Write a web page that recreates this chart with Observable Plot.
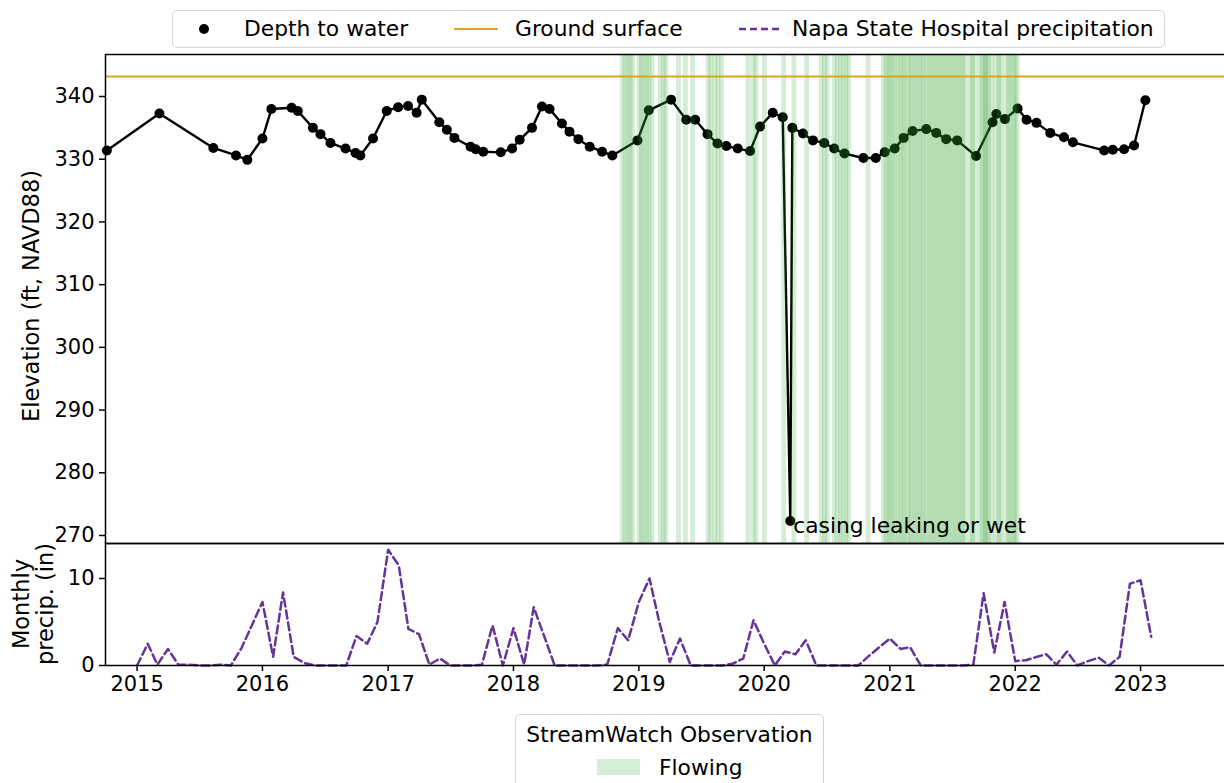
<!DOCTYPE html>
<html><head><meta charset="utf-8">
<script src="https://cdn.jsdelivr.net/npm/d3@7"></script>
<script src="https://cdn.jsdelivr.net/npm/@observablehq/plot@0.6"></script>
<style>
body{margin:0;background:#fff;font-family:"DejaVu Sans",sans-serif;}
#wrap{position:relative;width:1224px;height:783px;overflow:hidden;background:#fff;}
#top,#bot{position:absolute;left:0;}
#top{top:0;}
#bot{top:542px;}
#top svg,#bot svg{max-width:none !important;}
.legend{position:absolute;background:#fff;border:1.5px solid #d3d3d3;border-radius:5px;font-size:21.8px;color:#000;box-sizing:border-box;}
.lt{position:absolute;white-space:nowrap;transform:translateY(-50%);line-height:1;}
.ylab{position:absolute;white-space:nowrap;font-size:22.5px;line-height:1.05;text-align:center;transform:translate(-50%,-50%) rotate(-90deg);}
</style></head><body>
<div id="wrap">
  <div id="top"></div>
  <div id="bot"></div>
  <div class="ylab" style="left:32px;top:296px;">Elevation (ft, NAVD88)</div>
  <div class="ylab" style="left:34px;top:604px;">Monthly<br>precip. (in)</div>
  <div class="legend" style="left:172px;top:10px;width:993px;height:38px;">
    <svg style="position:absolute;left:0;top:0" width="990" height="36">
      <circle cx="31" cy="18" r="5" fill="black"/>
      <line x1="281" x2="325" y1="18" y2="18" stroke="#daa520" stroke-width="2"/>
      <line x1="566" x2="608" y1="18" y2="18" stroke="#663399" stroke-width="2.5" stroke-dasharray="7,4"/>
    </svg>
    <div class="lt" style="left:71px;top:18px;">Depth to water</div>
    <div class="lt" style="left:342px;top:18px;">Ground surface</div>
    <div class="lt" style="left:619px;top:18px;">Napa State Hospital precipitation</div>
  </div>
  <div class="legend" style="left:515px;top:714px;width:309px;height:90px;">
    <div class="lt" style="left:0;width:100%;text-align:center;top:20px;">StreamWatch Observation</div>
    <div style="position:absolute;left:81px;top:44px;width:43px;height:16px;background:rgba(44,160,44,0.2);"></div>
    <div class="lt" style="left:143px;top:53px;">Flowing</div>
  </div>
</div>
<script>
// Depth to water (elevation, ft NAVD88)
const wlDates = ["2014-10-05","2015-03-07","2015-08-11","2015-10-16","2015-11-18","2016-01-01","2016-01-27","2016-03-26","2016-04-13","2016-05-27","2016-06-18","2016-07-17","2016-08-30","2016-09-28","2016-10-12","2016-11-18","2016-12-28","2017-01-30","2017-02-28","2017-03-25","2017-04-09","2017-05-30","2017-06-21","2017-07-13","2017-08-29","2017-09-13","2017-10-05","2017-11-25","2017-12-28","2018-01-19","2018-02-24","2018-03-25","2018-04-16","2018-05-22","2018-06-13","2018-07-09","2018-08-11","2018-09-16","2018-10-16","2018-12-28","2019-01-30","2019-04-05","2019-05-19","2019-06-14","2019-07-20","2019-08-18","2019-09-13","2019-10-16","2019-11-21","2019-12-20","2020-01-26","2020-02-24","2020-03-17","2020-03-23","2020-04-23","2020-05-22","2020-06-24","2020-07-23","2020-08-22","2020-10-16","2020-11-21","2020-12-17","2021-01-15","2021-02-10","2021-03-08","2021-04-17","2021-05-16","2021-06-14","2021-07-16","2021-09-09","2021-10-27","2021-11-07","2021-12-02","2022-01-08","2022-02-03","2022-03-04","2022-04-13","2022-05-23","2022-06-18","2022-09-17","2022-10-12","2022-11-14","2022-12-13","2023-01-15"];
const wlValues = [331.4,337.3,331.8,330.6,329.9,333.3,338.0,338.2,337.7,335.0,334.0,332.6,331.7,331.0,330.6,333.3,337.7,338.3,338.5,337.4,339.5,335.9,334.7,333.4,332.0,331.6,331.2,331.1,331.7,333.1,335.0,338.4,338.0,335.7,334.4,333.2,332.0,331.2,330.6,333.0,337.8,339.5,336.3,336.3,334.0,332.5,332.1,331.7,331.3,335.2,337.4,336.7,272.3,335.0,334.1,333.0,332.6,331.7,330.9,330.2,330.2,331.1,331.7,333.4,334.5,334.8,334.2,333.2,333.0,330.5,335.9,337.2,336.4,338.1,336.3,335.8,334.2,333.5,332.7,331.4,331.5,331.6,332.2,339.4];
const groundSurface = 343.2;
const annotation = {date: "2020-03-17", value: 272.3, label: "casing leaking or wet"};

// Monthly precipitation (in), Napa State Hospital, starting Jan 2015
const precipStart = "2015-01-01";
const precipValues = [
  0.0,2.5,0.1,1.9,0.1,0.1,0.0,0.0,0.1,0.0,2.0,4.6,
  7.3,1.0,8.4,1.0,0.3,0.0,0.0,0.0,0.0,3.4,2.5,5.0,
  13.3,11.5,4.2,3.6,0.1,0.8,0.0,0.0,0.0,0.1,4.6,0.0,
  4.3,0.1,6.7,3.3,0.0,0.0,0.0,0.0,0.0,0.1,4.3,2.9,
  7.3,10.0,5.1,0.4,3.1,0.0,0.0,0.0,0.0,0.2,0.8,5.2,
  2.5,0.0,1.6,1.3,2.9,0.0,0.0,0.0,0.0,0.0,1.1,2.1,
  3.1,1.9,2.1,0.0,0.0,0.0,0.0,0.0,0.1,8.3,1.5,7.3,
  0.5,0.6,0.95,1.3,0.1,1.6,0.0,0.5,0.9,0.0,1.0,9.4,
  9.8,3.3];

// StreamWatch "Flowing" observation dates
const flowingDates = ["2018-11-15","2018-11-23","2018-12-01","2018-12-08","2018-12-15","2019-01-03","2019-01-10","2019-01-17","2019-01-25","2019-02-01","2019-02-10","2019-03-05","2019-03-15","2019-03-22","2019-04-28","2019-05-18","2019-06-08","2019-07-23","2019-07-31","2019-08-12","2019-08-21","2019-08-31","2019-11-16","2019-12-01","2019-12-10","2020-01-03","2020-02-28","2020-03-29","2020-05-05","2020-06-16","2020-06-26","2020-07-04","2020-07-24","2020-08-02","2020-08-11","2020-08-19","2020-08-28","2020-09-04","2020-10-31",
"2020-12-14","2020-12-22","2020-12-29","2021-01-03","2021-01-11","2021-01-17","2021-01-26","2021-02-01","2021-02-09","2021-02-14","2021-02-23","2021-03-02","2021-03-07","2021-03-16","2021-03-21","2021-03-30","2021-04-04","2021-04-12","2021-04-18","2021-04-27","2021-05-02","2021-05-11","2021-05-16","2021-05-25","2021-05-30","2021-06-08","2021-06-13","2021-06-22","2021-06-27","2021-07-06","2021-07-11","2021-07-20","2021-07-25","2021-08-03","2021-08-08","2021-08-22","2021-08-31","2021-09-05","2021-09-19","2021-09-28","2021-10-03","2021-10-08","2021-10-12","2021-10-17","2021-10-26","2021-11-07","2021-11-16","2021-11-21","2021-12-05","2021-12-14","2021-12-19","2021-12-28","2022-01-02","2022-01-08"];

const yearTicks = [2015,2016,2017,2018,2019,2020,2021,2022,2023];
const elevTicks = [270,280,290,300,310,320,330,340];
const precipTicks = [0,10];

// build tables
const parse = s => new Date(s + "T00:00:00Z");
const wl = wlDates.map((d, i) => ({date: parse(d), value: wlValues[i]}));
const p0 = parse(precipStart);
const precip = precipValues.map((v, i) => ({date: d3.utcMonth.offset(p0, i), value: v}));
const flowing = flowingDates.map(parse);
const ann = [{date: parse(annotation.date), value: annotation.value, label: annotation.label}];
const xDomain = [parse("2014-10-01"), parse("2023-10-19")];
const xTicks = yearTicks.map(y => new Date(Date.UTC(y, 0, 1)));

const baseStyle = {fontFamily: "DejaVu Sans", fontSize: "21px", color: "black", background: "transparent", overflow: "visible", maxWidth: "none"};

const topChart = Plot.plot({
  width: 1240, height: 545,
  marginTop: 54, marginBottom: 2, marginLeft: 105, marginRight: 0,
  style: baseStyle,
  x: {type: "utc", domain: xDomain, axis: null},
  y: {domain: [268.72, 346.70], axis: null},
  marks: [
    Plot.axisY({ticks: elevTicks, tickSize: 6, tickPadding: 5, label: null, strokeWidth: 1.5}),
    Plot.line(wl, {x: "date", y: "value", stroke: "black", strokeWidth: 2.4}),
    Plot.dot(wl, {x: "date", y: "value", r: 5, fill: "black"}),
    Plot.rect(flowing, {x1: d => d3.utcDay.offset(d, -7), x2: d => d3.utcDay.offset(d, 7), fill: "#2ca02c", fillOpacity: 0.2}),
    Plot.ruleY([groundSurface], {stroke: "#daa520", strokeWidth: 2}),
    Plot.text(ann, {x: "date", y: "value", text: "label", textAnchor: "start", lineAnchor: "top", dx: 3, dy: -4, fill: "black", fontSize: 21.8}),
    Plot.frame({stroke: "black", strokeWidth: 1.5})
  ]
});
document.getElementById("top").appendChild(topChart);

const botChart = Plot.plot({
  width: 1240, height: 160,
  marginTop: 1, marginBottom: 37, marginLeft: 105, marginRight: 0,
  style: baseStyle,
  x: {type: "utc", domain: xDomain, axis: null},
  y: {domain: [0, 14.02], axis: null},
  marks: [
    Plot.axisY({ticks: precipTicks, tickSize: 6, tickPadding: 5, label: null, strokeWidth: 1.5}),
    Plot.axisX({ticks: xTicks, tickFormat: d3.utcFormat("%Y"), tickSize: 6, tickPadding: 5, label: null, strokeWidth: 1.5}),
    Plot.line(precip, {x: "date", y: "value", stroke: "#663399", strokeWidth: 2.5, strokeDasharray: "8,4"}),
    Plot.frame({stroke: "black", strokeWidth: 1.5})
  ]
});
document.getElementById("bot").appendChild(botChart);
</script>
</body></html>
